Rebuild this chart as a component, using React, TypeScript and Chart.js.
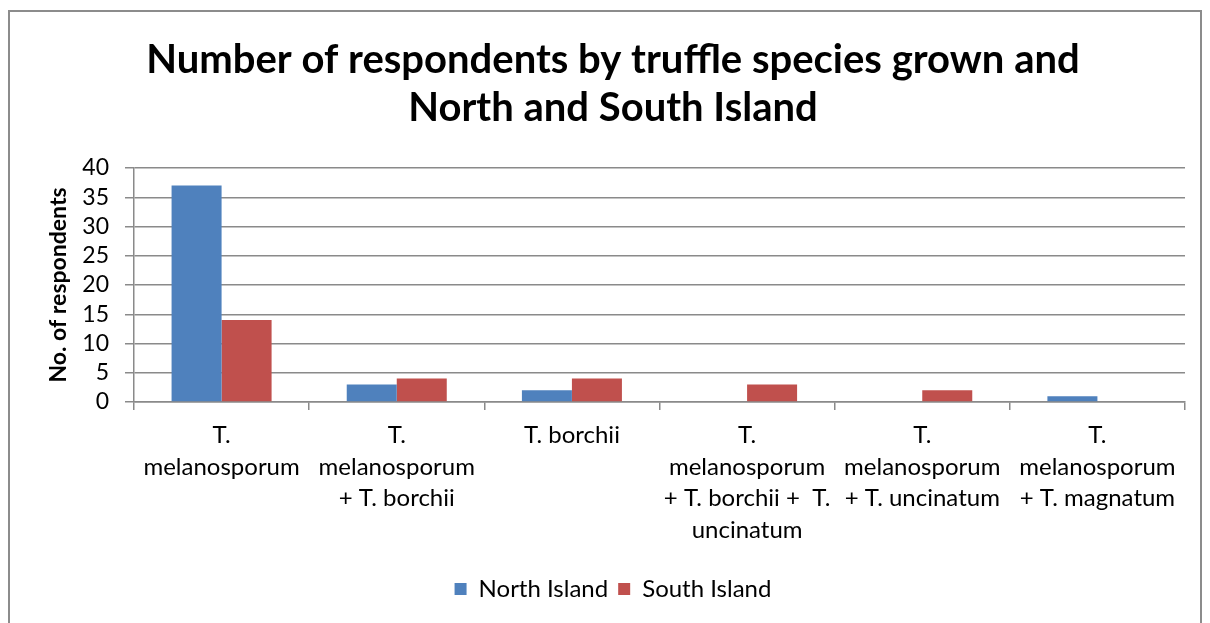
import React, { useEffect, useRef } from "react";
import { Chart, registerables } from "chart.js";

Chart.register(...registerables);

const titleLines = [
  "Number of respondents by truffle species grown and",
  "North and South Island",
];
const categories: string[][] = [
  ["T.", "melanosporum"],
  ["T.", "melanosporum", "+ T. borchii"],
  ["T. borchii"],
  ["T.", "melanosporum", "+ T. borchii +  T.", "uncinatum"],
  ["T.", "melanosporum", "+ T. uncinatum"],
  ["T.", "melanosporum", "+ T. magnatum"],
];
const northIsland = [37, 3, 2, 0, 0, 1];
const southIsland = [14, 4, 4, 3, 2, 0];
const yTitle = "No. of respondents";

const FONT = "Lato, 'Open Sans', sans-serif";
const GRID = "#8a8a8a";

export default function App() {
  const ref = useRef<HTMLCanvasElement | null>(null);
  useEffect(() => {
    if (!ref.current) return;
    const chart = new Chart(ref.current, {
      type: "bar",
      data: {
        labels: categories,
        datasets: [
          {
            label: "North Island",
            data: northIsland,
            backgroundColor: "#4F81BD",
            categoryPercentage: 0.571,
            barPercentage: 1,
          },
          {
            label: "South Island",
            data: southIsland,
            backgroundColor: "#C0504D",
            categoryPercentage: 0.571,
            barPercentage: 1,
          },
        ],
      },
      options: {
        responsive: false,
        animation: false,
        layout: { padding: { left: 31, right: 15, top: 0, bottom: 31 } },
        plugins: {
          title: {
            display: true,
            text: titleLines,
            color: "#000",
            font: { family: FONT, size: 40, weight: "bold", lineHeight: 1.2 },
            padding: { top: 24, bottom: 36 },
          },
          legend: {
            position: "bottom",
            labels: {
              color: "#000",
              font: { family: FONT, size: 24 },
              boxWidth: 12,
              boxHeight: 12,
              padding: 10,
            },
          },
          tooltip: { enabled: false },
        },
        scales: {
          x: {
            grid: {
              drawOnChartArea: false,
              drawTicks: true,
              tickLength: 8,
              color: GRID,
              lineWidth: 1.5,
            },
            border: { color: GRID, width: 1.5 },
            ticks: {
              color: "#000",
              font: { family: FONT, size: 24, lineHeight: 1.31 },
              maxRotation: 0,
              autoSkip: false,
              padding: 10,
            },
            afterFit: (s: any) => {
              s.height = 165;
            },
          },
          y: {
            min: 0,
            max: 40,
            ticks: {
              stepSize: 5,
              autoSkip: false,
              color: "#000",
              font: { family: FONT, size: 23, lineHeight: 1 },
              padding: 16,
            },
            grid: { color: GRID, lineWidth: 1.5, tickLength: 9 },
            border: { color: GRID, width: 1.5 },
            title: {
              display: true,
              text: yTitle,
              color: "#000",
              font: { family: FONT, size: 23, weight: "bold" },
            },
            afterFit: (s: any) => {
              s.width = 93;
            },
          },
        },
      },
    });
    return () => chart.destroy();
  }, []);
  return (
    <div style={{ marginTop: 2, border: "2px solid #8c8c8c", width: 1190, overflow: "hidden" }}>
      <canvas ref={ref} width={1190} height={630} style={{ display: "block" }} />
    </div>
  );
}
